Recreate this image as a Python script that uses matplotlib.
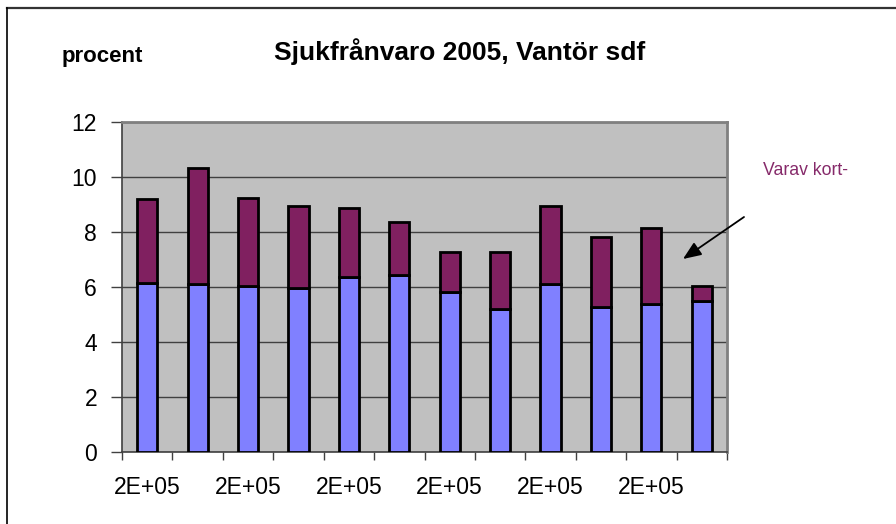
import matplotlib
matplotlib.use("Agg")
import matplotlib.pyplot as plt
from matplotlib.lines import Line2D
import numpy as np

plt.rcParams['font.family'] = ['Liberation Sans', 'DejaVu Sans']

categories = ["2E+05"] * 12
long_part = [6.13, 6.10, 6.04, 5.96, 6.35, 6.44, 5.83, 5.21, 6.11, 5.27, 5.37, 5.48]
short_part = [3.06, 4.22, 3.19, 2.98, 2.54, 1.94, 1.43, 2.05, 2.84, 2.56, 2.78, 0.57]
y_ticks = [0, 2, 4, 6, 8, 10, 12]

W, H = 896, 524
fig = plt.figure(figsize=(W / 100, H / 100), dpi=100)
fig.patch.set_facecolor("white")

ax = fig.add_axes([122 / W, (H - 452) / H, 605 / W, 330 / H])
ax.set_facecolor("#c0c0c0")

x = np.arange(len(categories))
ax.bar(x, long_part, width=0.4, color="#8080ff", edgecolor="black", linewidth=2.0, zorder=3)
ax.bar(x, short_part, width=0.4, bottom=long_part, color="#802060", edgecolor="black",
       linewidth=2.0, zorder=3)

ax.set_xlim(-0.5, len(categories) - 0.5)
ax.set_ylim(0, 12)
ax.set_yticks(y_ticks)
ax.set_yticklabels([str(v) for v in y_ticks], fontsize=16.5)
ax.yaxis.grid(True, color="#404040", linewidth=1.0, zorder=1)

ax.set_xticks(x[::2])
ax.set_xticklabels(categories[::2], fontsize=16.5)
ax.set_xticks(np.arange(-0.5, len(categories)), minor=True)
ax.tick_params(axis="x", which="major", length=0, pad=17)
ax.tick_params(axis="x", which="minor", length=6, width=1, color="#404040", direction="out")
ax.tick_params(axis="y", length=8, width=1, color="#404040", direction="out", pad=10)

for side in ["left", "bottom"]:
    ax.spines[side].set_color("#404040")
    ax.spines[side].set_linewidth(1.2)
for side in ["top", "right"]:
    ax.spines[side].set_color("#808080")
    ax.spines[side].set_linewidth(2.0)

fig.text(460 / W, (H - 60) / H, "Sjukfrånvaro 2005, Vantör sdf", fontsize=19,
         fontweight="bold", ha="center", va="baseline")
fig.text(62 / W, (H - 62) / H, "procent", fontsize=16, fontweight="bold",
         ha="left", va="baseline")
fig.text(763 / W, (H - 175) / H, "Varav kort-", fontsize=12.7, color="#862a6a",
         ha="left", va="baseline")

ax.annotate("", xy=(683, H - 259), xycoords="figure pixels",
            xytext=(744, H - 217), textcoords="figure pixels",
            arrowprops=dict(arrowstyle="-|>,head_length=1.1,head_width=0.45",
                            color="black", lw=1.3, shrinkA=0, shrinkB=0),
            annotation_clip=False)

fig.add_artist(Line2D([7 / W, 1.0], [(H - 8) / H, (H - 8) / H], color="#333333",
                      linewidth=1.6, transform=fig.transFigure))
fig.add_artist(Line2D([7 / W, 7 / W], [0, (H - 8) / H], color="black",
                      linewidth=1.2, transform=fig.transFigure))

fig.savefig("out.png", dpi=100)
